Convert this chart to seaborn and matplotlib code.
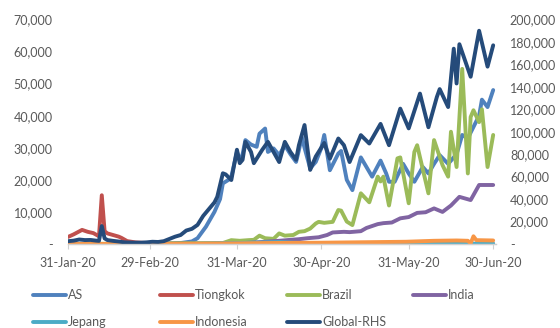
import matplotlib
matplotlib.use("Agg")
import matplotlib.pyplot as plt
import matplotlib.dates as mdates
from matplotlib.lines import Line2D
from matplotlib.ticker import FuncFormatter, MultipleLocator
import seaborn as sns
import pandas as pd

# ---- data: (days since 31-Jan-20, daily new cases) ----
as_points = [(0, 0), (20, 0), (35, 100), (40, 300), (44, 800), (46, 1800), (49, 5400),
             (52, 10000), (54, 14000), (55, 18900), (57, 20000), (58, 21000), (60, 28700),
             (61, 26000), (62, 28000), (63, 32400), (65, 31000), (67, 30300), (68, 34400),
             (70, 36000), (71, 28700), (73, 29800), (75, 27700), (77, 30800), (79, 28000),
             (81, 25600), (82, 29200), (83, 33400), (84, 30000), (86, 23600), (88, 25600),
             (90, 30000), (91, 34000), (93, 23000), (96, 28200), (97, 29000), (99, 20000),
             (101, 16800), (104, 27000), (106, 24000), (108, 21000), (111, 26000),
             (113, 22000), (114, 19400), (116, 19400), (119, 25000), (121, 22000),
             (123, 19400), (126, 24000), (128, 22000), (130, 25000), (132, 27700),
             (135, 25000), (137, 27000), (138, 28000), (140, 34000), (142, 33000),
             (144, 36500), (146, 40000), (147, 45000), (149, 42700), (151, 48000)]

tiongkok_points = [(0, 2200), (2, 3000), (5, 4400), (7, 3800), (9, 3400), (11, 2400),
                   (12, 15200), (13, 4000), (14, 3300), (16, 2800), (18, 2300), (19, 1900),
                   (20, 1400), (21, 900), (24, 500), (28, 300), (35, 100), (45, 50),
                   (151, 30)]

brazil_points = [(0, 0), (55, 300), (58, 1200), (61, 1000), (64, 1200), (66, 1300),
                 (68, 2600), (70, 1800), (73, 1600), (75, 3300), (77, 2600), (80, 2800),
                 (82, 3800), (84, 4000), (86, 4800), (88, 6400), (89, 6900), (91, 6600),
                 (94, 6900), (96, 10600), (97, 10400), (99, 7000), (101, 5900),
                 (104, 15800), (107, 13000), (110, 21000), (111, 19500), (112, 21000),
                 (114, 12000), (117, 26700), (118, 27000), (121, 12700), (123, 28700),
                 (124, 30800), (128, 15800), (130, 32400), (133, 24600), (135, 21000),
                 (136, 35000), (138, 24000), (140, 54600), (142, 22000), (143, 39600),
                 (144, 41700), (146, 38000), (147, 42000), (149, 24000), (151, 34000)]

india_points = [(0, 0), (50, 50), (55, 100), (60, 200), (65, 400), (70, 700), (75, 1000),
                (79, 1300), (82, 1500), (85, 1800), (89, 2100), (92, 2800), (94, 3600),
                (98, 3800), (100, 3700), (104, 4000), (106, 5000), (110, 6200),
                (112, 6500), (115, 6700), (118, 8000), (121, 8400), (124, 9700),
                (127, 9900), (130, 11100), (133, 10000), (136, 12000), (139, 14700),
                (143, 13700), (146, 18400), (151, 18400)]

jepang_points = [(0, 0), (40, 0), (50, 100), (60, 300), (70, 500), (75, 600), (80, 400),
                 (90, 200), (100, 50), (120, 50), (130, 100), (151, 100)]

indonesia_points = [(0, 0), (35, 50), (45, 100), (60, 200), (70, 300), (80, 350),
                    (90, 400), (100, 500), (110, 600), (120, 700), (130, 1000),
                    (138, 1100), (142, 1000), (143, 200), (144, 2400), (145, 1200),
                    (151, 1100)]

global_points = [(0, 2500), (2, 3000), (4, 4000), (6, 3500), (8, 3600), (10, 3000),
                 (11, 2800), (12, 16000), (13, 5000), (14, 3500), (16, 2800), (18, 2200),
                 (20, 1500), (23, 1200), (26, 1200), (28, 1500), (30, 2000), (32, 1800),
                 (34, 2500), (36, 4500), (38, 6500), (40, 8000), (42, 12000), (44, 13500),
                 (46, 17000), (48, 25000), (50, 31000), (52, 37000), (53, 42000),
                 (55, 63000), (56, 62000), (58, 57000), (60, 84000), (61, 72000),
                 (62, 75000), (63, 91000), (65, 82000), (66, 72000), (69, 84000),
                 (71, 91000), (73, 82000), (75, 73000), (77, 91000), (79, 82000),
                 (81, 75000), (82, 88000), (84, 106000), (86, 66000), (88, 78000),
                 (91, 90000), (93, 76000), (96, 94000), (98, 88000), (100, 73000),
                 (104, 97000), (107, 89500), (111, 107000), (114, 88000), (118, 120600),
                 (121, 103000), (125, 134000), (128, 104000), (131, 131000),
                 (132, 138000), (135, 122000), (137, 174000), (138, 143000),
                 (139, 178000), (143, 149000), (146, 190000), (149, 158000),
                 (151, 177000)]

left_series = ["AS", "Tiongkok", "Brazil", "India", "Jepang", "Indonesia"]
left_points = [as_points, tiongkok_points, brazil_points, india_points,
               jepang_points, indonesia_points]
global_label = "Global-RHS"
colors = {"AS": "#4F81BD", "Tiongkok": "#C0504D", "Brazil": "#9BBB59",
          "India": "#8064A2", "Jepang": "#4BACC6", "Indonesia": "#F79646",
          "Global-RHS": "#254B7A"}
tick_dates = ["2020-01-31", "2020-02-29", "2020-03-31", "2020-04-30",
              "2020-05-31", "2020-06-30"]

base = pd.Timestamp("2020-01-31")


def to_frame(points, name):
    d, v = zip(*points)
    return pd.DataFrame({"date": base + pd.to_timedelta(list(d), unit="D"),
                         "value": list(v), "series": name})


sns.set_theme(style="white")
plt.rcParams["font.family"] = ["Lato", "DejaVu Sans"]

fig = plt.figure(figsize=(5.6, 3.28), dpi=100)
ax = fig.add_axes([68 / 560, 1 - 244 / 328, (496 - 68) / 560, (244 - 19.5) / 328])
ax2 = ax.twinx()

lw = 2.8
left_df = pd.concat([to_frame(p, n) for p, n in zip(left_points, left_series)],
                    ignore_index=True)
sns.lineplot(data=left_df, x="date", y="value", hue="series", hue_order=left_series,
             palette=colors, linewidth=lw, ax=ax, legend=False, estimator=None,
             solid_capstyle="round", solid_joinstyle="round")
g_df = to_frame(global_points, global_label)
sns.lineplot(data=g_df, x="date", y="value", color=colors[global_label], linewidth=lw,
             ax=ax2, legend=False, estimator=None, solid_capstyle="round",
             solid_joinstyle="round")

text_color = "#595959"
fs = 9

ax.set_ylim(0, 70000)
ax2.set_ylim(0, 200000)
ax.set_xlim(base, base + pd.Timedelta(days=152))
ax.yaxis.set_major_locator(MultipleLocator(10000))
ax2.yaxis.set_major_locator(MultipleLocator(20000))
fmt = FuncFormatter(lambda v, p: "-" if v == 0 else f"{int(v):,}")
ax.yaxis.set_major_formatter(fmt)
ax2.yaxis.set_major_formatter(fmt)

ax.set_xticks(pd.to_datetime(tick_dates))
ax.xaxis.set_major_formatter(mdates.DateFormatter("%d-%b-%y"))

for a in (ax, ax2):
    a.set_xlabel("")
    a.set_ylabel("")
    for s in ("top", "left", "right"):
        a.spines[s].set_visible(False)
    a.spines["bottom"].set_color("#D0D0D0")
    a.spines["bottom"].set_linewidth(0.9)
    a.grid(False)
    a.set_facecolor("none")

ax.tick_params(axis="y", length=0, pad=11, labelsize=fs, labelcolor=text_color)
ax2.tick_params(axis="y", length=0, pad=10, labelsize=fs, labelcolor=text_color)
ax.tick_params(axis="x", length=3.5, width=0.8, color="#D0D0D0", direction="out",
               pad=6, labelsize=fs, labelcolor=text_color, bottom=True)

# legend: 4 columns x 2 rows
order = ["AS", "Tiongkok", "Brazil", "India", "Jepang", "Indonesia", "Global-RHS"]
col_x = [33, 160, 287, 413]
row_y = [295, 322]
for i, name in enumerate(order):
    r, c = divmod(i, 4)
    h = Line2D([], [], color=colors[name], linewidth=lw, solid_capstyle="round")
    fig.legend(handles=[h], labels=[name], loc="center left",
               bbox_to_anchor=(col_x[c] / 560, 1 - row_y[r] / 328),
               frameon=False, fontsize=fs, labelcolor=text_color,
               handlelength=2.6, handletextpad=0.2, borderpad=0, borderaxespad=0)

fig.savefig("out.png", dpi=100)
